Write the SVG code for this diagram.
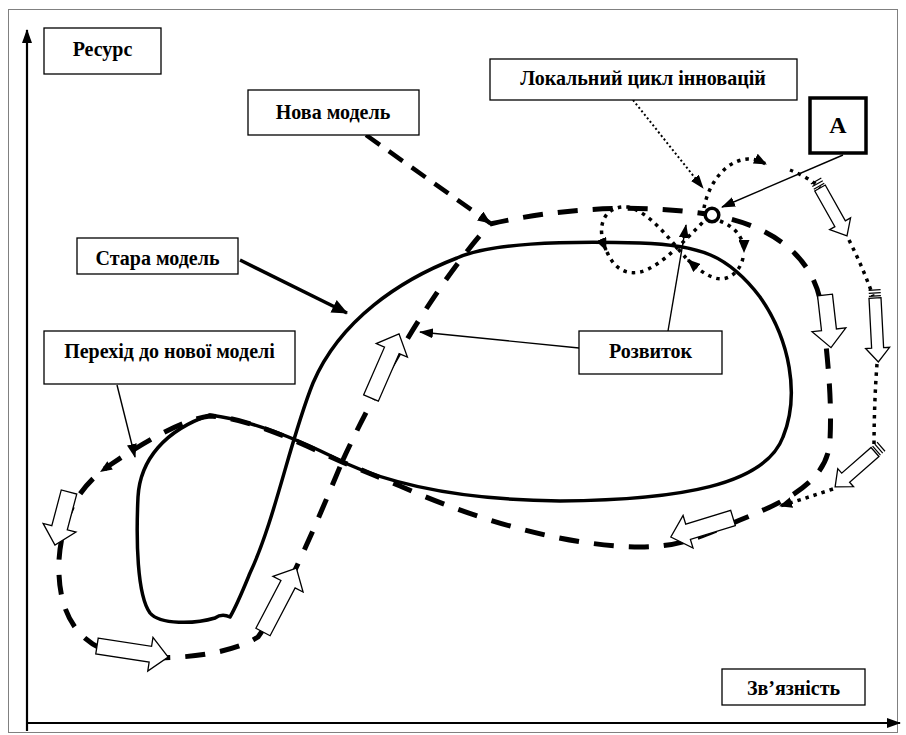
<svg xmlns="http://www.w3.org/2000/svg" width="906" height="735" viewBox="0 0 906 735">
<style>
.box{fill:#fff;stroke:#000;stroke-width:1.3}
.lbl{font-family:"Liberation Serif","Times New Roman",serif;font-weight:bold;font-size:20px;text-anchor:middle;fill:#000}
.solid{fill:none;stroke:#000;stroke-width:3.5;stroke-linejoin:round}
.dash{fill:none;stroke:#000;stroke-width:5;stroke-dasharray:20 15}
.dot{fill:none;stroke:#000;stroke-width:3.5;stroke-dasharray:3.5 5}
.thin{fill:none;stroke:#000;stroke-width:1.4}
.blk{fill:#fff;stroke:#000;stroke-width:1.3;stroke-linejoin:miter}
.str{stroke:#000;stroke-width:1.2}
</style>
<defs>
<marker id="ahs" viewBox="0 0 14 10" refX="13" refY="5" markerWidth="14" markerHeight="10" markerUnits="userSpaceOnUse" orient="auto"><path d="M0,0 L14,5 L0,10 Z"/></marker>
<marker id="ahb" viewBox="0 0 16 14" refX="15" refY="7" markerWidth="16" markerHeight="14" markerUnits="userSpaceOnUse" orient="auto"><path d="M0,0 L16,7 L0,14 Z"/></marker>
<marker id="ahd" viewBox="0 0 13 11" refX="12" refY="5.5" markerWidth="13" markerHeight="11" markerUnits="userSpaceOnUse" orient="auto"><path d="M0,0 L13,5.5 L0,11 Z"/></marker>
</defs>
<rect x="8.5" y="9.5" width="889" height="723" fill="none" stroke="#808080" stroke-width="1"/>
<g id="axes">
<line x1="27" y1="731" x2="27" y2="30" stroke="#000" stroke-width="2.2" marker-end="url(#ahs)"/>
<line x1="26" y1="723" x2="900" y2="723" stroke="#000" stroke-width="2.2" marker-end="url(#ahs)"/>
</g>
<g id="connectors">
<path id="old-model" class="solid" d="M 210,415 C 250,420 300,440 345,463 C 400,488 470,500 560,501 C 680,500 765,485 783,437 C 800,395 790,340 760,297 C 728,255 700,245 640,243 C 560,241 490,243 457,258 C 400,280 340,320 313,383 C 290,440 275,520 250,573 C 243,590 237,605 230,617 Q 222,613 215,618 C 195,624 160,625 150,613 C 137,595 136,540 138,497 C 140,460 165,430 210,415 Z"/>
<path id="new-model" class="dash" d="M 342,462 C 370,400 430,290 490,224 C 560,208 640,203 712,215 C 770,225 815,255 822,310 C 828,360 832,400 830,440 C 828,480 790,500 740,520 C 700,537 680,547 640,547 C 560,546 470,517 400,486 C 380,478 362,470 342,462 C 300,443 250,418 210,416 C 180,420 140,445 110,465 C 80,485 62,515 59,560 C 57,610 75,645 120,655 C 170,662 230,655 258,637 C 285,600 322,510 342,462 Z"/>
<polygon points="100,472 112.8,469.5 107.3,461.3"/>
<path class="dot" d="M 704,208 C 708,185 725,160 748,159 C 754,159 760,161 766,164" marker-end="url(#ahd)"/>
<path class="dot" d="M 720,221 C 733,226 744,236 744,252" marker-end="url(#ahd)"/>
<path class="dot" d="M 743,258 C 740,272 728,282 715,278 C 705,275 697,268 688,260" marker-end="url(#ahd)"/>
<path class="dot" d="M 686,258 C 670,240 650,212 628,207 C 605,205 595,225 606,250" marker-end="url(#ahd)"/>
<path class="dot" d="M 607,252 C 614,268 625,275 640,272 C 660,268 690,235 706,219"/>
<path class="dot" d="M 790,170 C 800,174 812,180 820,188"/>
<path class="dot" d="M 849,240 C 858,258 866,276 873,296"/>
<path class="dot" d="M 877,364 C 875,390 874,420 874,448"/>
<path class="dot" d="M 833,489 C 815,495 800,500 780,506" marker-end="url(#ahd)"/>
<path class="dash" style="stroke-width:4.5;stroke-dasharray:17 11" d="M 366,135 L 490,223" marker-end="url(#ahd)"/>
<line x1="240" y1="260" x2="347" y2="313" stroke="#000" stroke-width="3.5" marker-end="url(#ahb)"/>
<line class="thin" x1="117" y1="385" x2="135" y2="457" marker-end="url(#ahs)"/>
<line class="thin" x1="579" y1="348" x2="420" y2="332" marker-end="url(#ahs)"/>
<line class="thin" x1="668" y1="331" x2="686" y2="225" marker-end="url(#ahs)"/>
<line x1="633" y1="100" x2="703" y2="188" stroke="#000" stroke-width="2" stroke-dasharray="2 2.5" marker-end="url(#ahs)"/>
<line class="thin" x1="843" y1="155" x2="722" y2="207" marker-end="url(#ahs)"/>
<circle cx="712" cy="215" r="6.8" fill="#fff" stroke="#000" stroke-width="3.5"/>
<g transform="translate(825,295) rotate(83.5)"><polygon class="blk" points="0,-7.5 35,-7.5 35,-17 53,0 35,17 35,7.5 0,7.5"/></g>
<g transform="translate(733,518) rotate(163)"><polygon class="blk" points="0,-8 47,-8 47,-17 65,0 47,17 47,8 0,8"/></g>
<g transform="translate(69,492) rotate(104.8)"><polygon class="blk" points="0,-8 37,-8 37,-17 55,0 37,17 37,8 0,8"/></g>
<g transform="translate(97,646) rotate(8.8)"><polygon class="blk" points="0,-8 54,-8 54,-17 72,0 54,17 54,8 0,8"/></g>
<g transform="translate(263,632) rotate(-62.4)"><polygon class="blk" points="0,-8 54,-8 54,-17 72,0 54,17 54,8 0,8"/></g>
<g transform="translate(371,398) rotate(-66.4)"><polygon class="blk" points="0,-8 52,-8 52,-17 70,0 52,17 52,8 0,8"/></g>
<g transform="translate(820,188) rotate(60.6)"><polygon class="blk" points="0,-6 41,-6 41,-12 55,0 41,12 41,6 0,6"/><line class="str" x1="-2" y1="-6" x2="-2" y2="6"/><line class="str" x1="-5" y1="-6" x2="-5" y2="6"/><line class="str" x1="-8" y1="-6" x2="-8" y2="6"/></g>
<g transform="translate(875,298) rotate(87)"><polygon class="blk" points="0,-6 50,-6 50,-12 64,0 50,12 50,6 0,6"/><line class="str" x1="-2" y1="-6" x2="-2" y2="6"/><line class="str" x1="-5" y1="-6" x2="-5" y2="6"/><line class="str" x1="-8" y1="-6" x2="-8" y2="6"/></g>
<g transform="translate(875,452) rotate(138.8)"><polygon class="blk" points="0,-6 39,-6 39,-12 53,0 39,12 39,6 0,6"/><line class="str" x1="-2" y1="-6" x2="-2" y2="6"/><line class="str" x1="-5" y1="-6" x2="-5" y2="6"/><line class="str" x1="-8" y1="-6" x2="-8" y2="6"/></g>
</g>
<g id="resurs"><rect class="box" x="44" y="28" width="117" height="46"/><text class="lbl" x="102.5" y="56">Ресурс</text></g>
<g id="nova-model"><rect class="box" x="248" y="90" width="171" height="45"/><text class="lbl" x="333" y="119">Нова модель</text></g>
<g id="lokalnyi-tsykl"><rect class="box" x="490" y="59" width="307" height="41"/><text class="lbl" x="643" y="85">Локальний цикл інновацій</text></g>
<g id="A"><rect x="810" y="98" width="56" height="55" fill="#fff" stroke="#000" stroke-width="3.5"/><text class="lbl" style="font-size:24px" x="838" y="133">A</text></g>
<g id="stara-model"><rect class="box" x="77" y="238" width="161" height="36"/><text class="lbl" x="157.5" y="265">Стара модель</text></g>
<g id="perekhid"><rect class="box" x="44" y="331" width="251" height="53"/><text class="lbl" x="169.5" y="358">Перехід до нової моделі</text></g>
<g id="rozvytok"><rect class="box" x="579" y="331" width="143" height="43"/><text class="lbl" x="650.5" y="358">Розвиток</text></g>
<g id="zviaznist"><rect class="box" x="722" y="669" width="143" height="36"/><text class="lbl" x="793.5" y="695">Зв’язність</text></g>
</svg>
